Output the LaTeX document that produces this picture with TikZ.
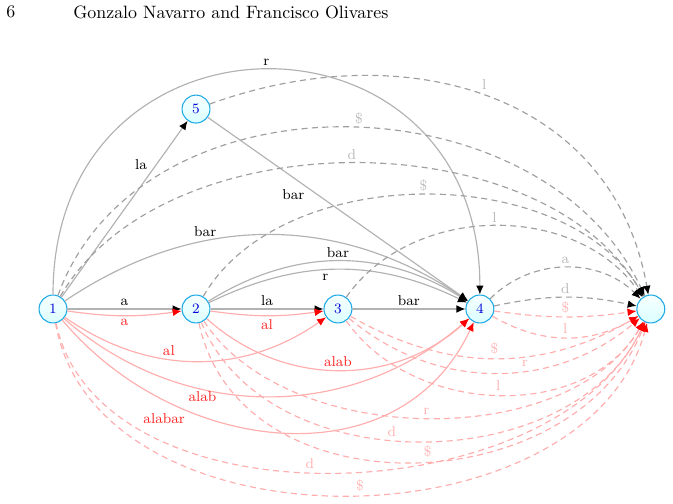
\documentclass[tikz,border=0pt]{standalone}
\usepackage{tikz}
\usetikzlibrary{arrows.meta,positioning}
\definecolor{stateline}{RGB}{30,170,230}

\begin{document}
\begin{tikzpicture}[x=0.5587pt, y=0.5587pt, on grid,
    state/.style={circle, draw=stateline, line width=0.6pt, top color=cyan!3, bottom color=cyan!14,
                  minimum size=15.6pt, inner sep=0pt, font=\footnotesize, text=blue!85!black},
    headcol/.style={-{Latex[length=5pt, width=4.3pt, color=#1]}},
    gedge/.style={draw=gray!60, line width=0.65pt, headcol=black},
    gdash/.style={gedge, draw=gray!75, dash pattern=on 3.4pt off 2.4pt},
    redge/.style={draw=red!32, line width=0.65pt, headcol=red},
    rdash/.style={redge, dash pattern=on 3.4pt off 2.4pt},
    lab/.style={font=\footnotesize, inner sep=1.8pt},
    glab/.style={lab, text=black},
    glabl/.style={lab, text=gray!55},
    rlab/.style={lab, text=red!85},
    rlabl/.style={lab, text=red!30}
  ]
  \useasboundingbox (0,0) rectangle (673,504);

  % running head
  \node[anchor=west, inner sep=0pt] (page) at (6,492) {6};
  \node[anchor=west, inner sep=0pt] (head) at (73,492) {Gonzalo Navarro and Francisco Olivares};

  % states
  \node[state] (n1) at (53,195) {1};
  \node[state, right=79.9pt of n1] (n2) {2};
  \node[state, right=79.3pt of n2] (n3) {3};
  \node[state, right=79.3pt of n3] (n4) {4};
  \node[state, right=95.5pt of n4] (nf) {};
  \node[state, above=111.7pt of n2] (n5) {5};

  % solid gray
  \draw[gedge] (n1) -- node[above, glab] {a} (n2);
  \draw[gedge] (n2) -- node[above, glab] {la} (n3);
  \draw[gedge] (n3) -- node[above, glab] {bar} (n4);
  \draw[gedge] (n1) -- node[pos=0.75, left=3pt, glab] {la} (n5);
  \draw[gedge] (n5) -- node[pos=0.38, below left, glab, inner sep=1pt] {bar} (n4);
  \draw[gedge] (n1) to[out=90, in=90, looseness=1.8] node[above, glab] {r} (n4);
  \draw[gedge] (n1) to[bend left=34] node[pos=0.35, above, glab] {bar} (n4);
  \draw[gedge] (n2) to[bend left=32] node[above, glab] {bar} (n4);
  \draw[gedge] (n2) to[bend left=26] node[pos=0.45, below, glab] {r} (n4);

  % dashed gray
  \draw[gdash] (n5) to[out=20, in=100, looseness=1.1] node[pos=0.48, above right, glabl] {l} (nf);
  \draw[gdash] (n1) to[out=70, in=115, looseness=1.06] node[pos=0.52, above, glabl] {\$} (nf);
  \draw[gdash] (n1) to[out=60, in=120, looseness=0.9] node[above, glabl] {d} (nf);
  \draw[gdash] (n2) to[out=60, in=120, looseness=0.91] node[above, glabl] {\$} (nf);
  \draw[gdash] (n3) to[out=55, in=125] node[above, glabl] {l} (nf);
  \draw[gdash] (n4) to[bend left=45] node[above, glabl] {a} (nf);
  \draw[gdash] (n4) to[bend left=12] node[above, glabl] {d} (nf);

  % solid red
  \draw[redge] (n1) to[bend right=8] node[below, rlab] {a} (n2);
  \draw[redge] (n2) to[bend right=8] node[below, rlab] {al} (n3);
  \draw[redge] (n1) to[bend right=35] node[pos=0.4, above, rlab] {al} (n3);
  \draw[redge] (n2) to[bend right=42] node[above, rlab] {alab} (n4);
  \draw[redge] (n1) to[bend right=41] node[pos=0.35, below, rlab, inner sep=1pt] {alab} (n4);
  \draw[redge] (n1) to[out=-50, in=-115, looseness=1.1] node[pos=0.3, below left, rlab, inner sep=1pt] {alabar} (n4);

  % dashed red
  \draw[rdash] (n4) to[bend right=8] node[above, rlabl] {\$} (nf);
  \draw[rdash] (n4) to[bend right=30] node[above, rlabl] {l} (nf);
  \draw[rdash] (n3) to[bend right=30] node[above, rlabl] {\$} (nf);
  \draw[rdash] (n3) to[bend right=40] node[pos=0.6, above, rlabl] {r} (nf);
  \draw[rdash] (n3) to[out=-55, in=-120] node[above, rlabl] {l} (nf);
  \draw[rdash] (n2) to[out=-57, in=-120, looseness=0.88] node[above, rlabl] {r} (nf);
  \draw[rdash] (n2) to[out=-68, in=-115] node[pos=0.45, above, rlabl] {d} (nf);
  \draw[rdash] (n2) to[out=-78, in=-112, looseness=1.12] node[pos=0.53, above, rlabl] {\$} (nf);
  \draw[rdash] (n1) to[out=-78, in=-115, looseness=0.92] node[pos=0.47, above, rlabl] {d} (nf);
  \draw[rdash] (n1) to[out=-80, in=-105, looseness=1.02] node[pos=0.52, above, rlabl] {\$} (nf);
\end{tikzpicture}
\end{document}
